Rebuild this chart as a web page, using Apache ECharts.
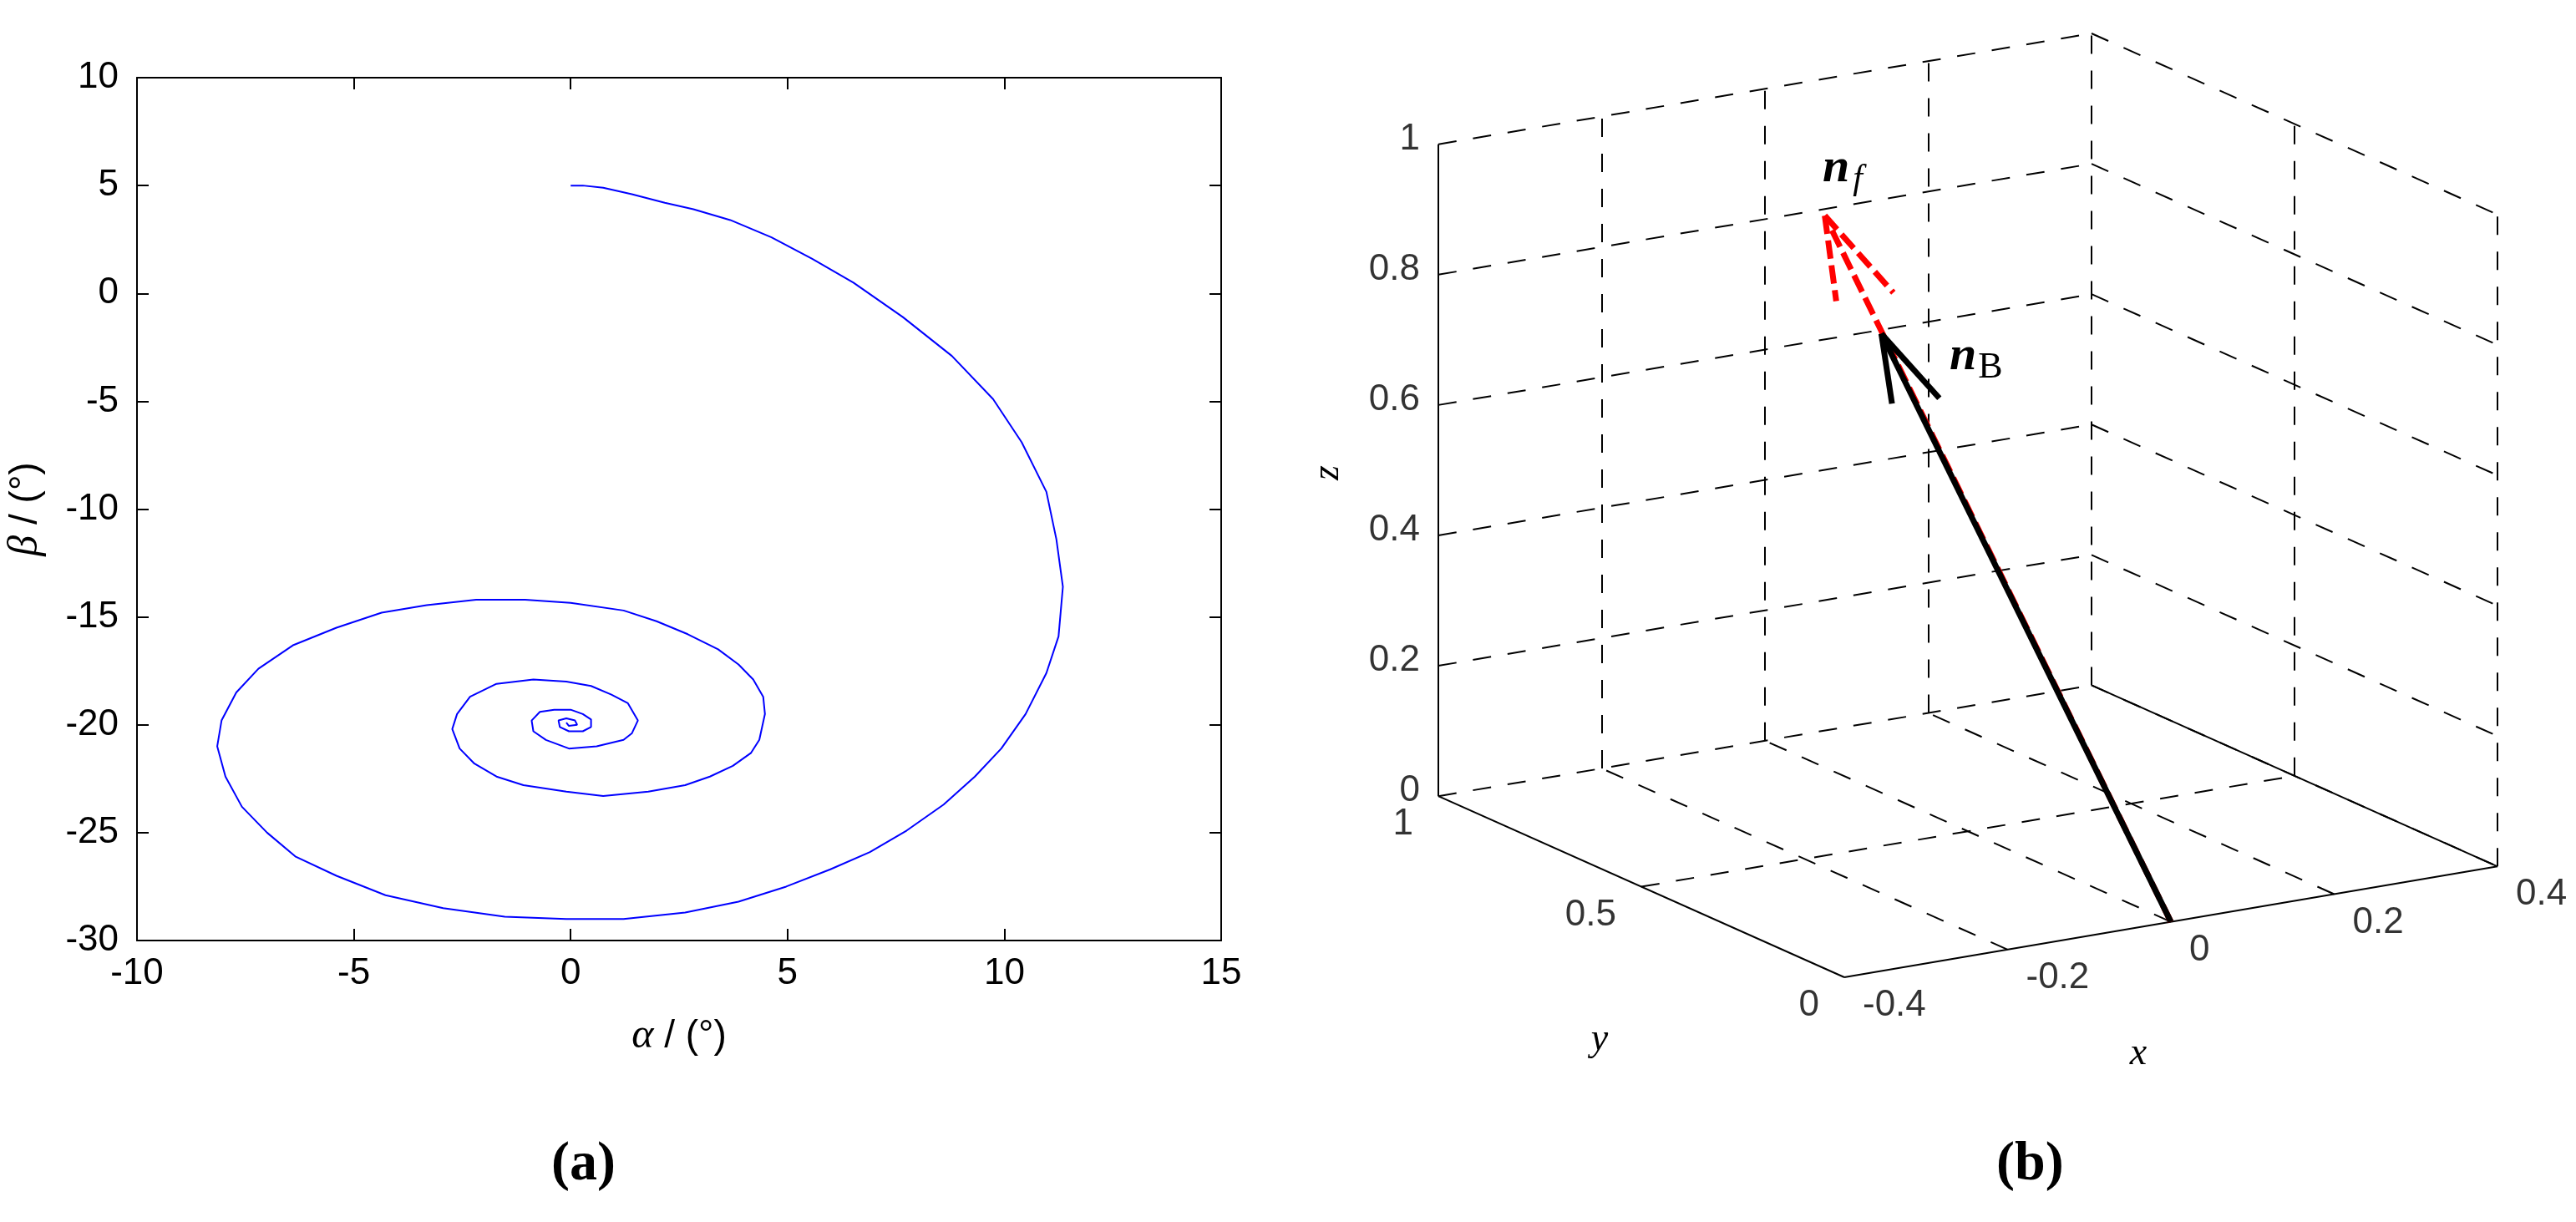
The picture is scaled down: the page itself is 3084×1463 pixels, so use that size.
<!DOCTYPE html>
<html>
<head>
<meta charset="utf-8">
<script src="https://cdn.jsdelivr.net/npm/echarts@6/dist/echarts.min.js"></script>
<style>
  html, body { margin: 0; padding: 0; background: #fff; }
  #chart { width: 3084px; height: 1463px; }
</style>
</head>
<body>
<div id="chart"></div>
<script>
// (a) spiral trajectory, alpha / beta in degrees
const alphaDeg = [0, 0.28, 0.75, 1.41, 2.17, 2.83, 3.68, 4.63, 5.57, 6.52, 7.66, 8.79, 9.74, 10.4, 10.97,
  11.2, 11.35, 11.25, 10.97, 10.49, 9.93, 9.32, 8.6, 7.75, 6.9, 5.99, 4.97, 3.87, 2.64, 1.22, -0.1,
  -1.52, -2.94, -4.27, -5.4, -6.35, -7.0, -7.58, -7.96, -8.15, -8.05, -7.71, -7.2, -6.39, -5.4, -4.36,
  -3.32, -2.18, -1.05, 0, 1.22, 1.98, 2.7, 3.4, 3.87, 4.21, 4.44, 4.48, 4.35, 4.16, 3.74, 3.21, 2.64,
  1.79, 0.75, -0.1, -1.09, -1.71, -2.22, -2.56, -2.73, -2.62, -2.32, -1.71, -0.86, -0.1, 0.47, 0.94,
  1.32, 1.55, 1.41, 1.22, 0.6, -0.04, -0.57, -0.86, -0.9, -0.71, -0.38, 0, 0.28, 0.47, 0.47, 0.28,
  -0.04, -0.25, -0.28, -0.1, 0.1, 0.15, -0.04, -0.1];
const betaDeg = [5.0, 5.0, 4.9, 4.6, 4.2, 3.9, 3.4, 2.6, 1.6, 0.5, -1.1, -2.9, -4.9, -6.9, -9.2,
  -11.4, -13.6, -15.9, -17.6, -19.5, -21.1, -22.4, -23.7, -24.9, -25.9, -26.7, -27.5, -28.2, -28.7, -29.0, -29.0,
  -28.9, -28.5, -27.9, -27.0, -26.1, -25.0, -23.8, -22.4, -21.0, -19.8, -18.5, -17.4, -16.3, -15.5, -14.8,
  -14.45, -14.2, -14.2, -14.35, -14.7, -15.2, -15.8, -16.5, -17.2, -17.9, -18.7, -19.5, -20.7, -21.3, -21.9, -22.4, -22.8,
  -23.1, -23.3, -23.1, -22.8, -22.4, -21.8, -21.1, -20.2, -19.5, -18.7, -18.1, -17.9, -18.0, -18.2, -18.6,
  -19.0, -19.8, -20.4, -20.7, -21.0, -21.1, -20.7, -20.3, -19.8, -19.4, -19.3, -19.3, -19.5, -19.75, -20.1, -20.3,
  -20.3, -20.1, -19.8, -19.7, -19.8, -20.0, -20.05, -19.9];

// (b) 3D vectors [x, y, z]
const nB = [-0.28, 0.15, 0.92];
const nBHeads = [[-0.267, 0.15, 0.81], [-0.209, 0.15, 0.806]];
const nF = [-0.225, 0.4, 1.02];
const nFHeads = [[-0.211, 0.4, 0.886], [-0.141, 0.4, 0.884]];
const xTicks = [-0.4, -0.2, 0, 0.2, 0.4];
const yTicks = [0, 0.5, 1];
const zTicks = [0, 0.2, 0.4, 0.6, 0.8, 1];

// view of the 3D box (screen units per data unit)
const VIEW = { ux: 977.5, uy: -486, vx: 166, vy: 217, vz: 781 };
const P = ([x, y, z]) => [VIEW.ux * x + VIEW.uy * y, VIEW.vx * x + VIEW.vy * y + VIEW.vz * z];

const X0 = xTicks[0], X1 = xTicks[xTicks.length - 1];
const Y0 = yTicks[0], Y1 = yTicks[yTicks.length - 1];
const Z0 = zTicks[0], Z1 = zTicks[zTicks.length - 1];
const corners = [];
for (const x of [X0, X1]) for (const y of [Y0, Y1]) for (const z of [Z0, Z1]) corners.push(P([x, y, z]));
const uMin = Math.min(...corners.map(c => c[0])), uMax = Math.max(...corners.map(c => c[0]));
const vMin = Math.min(...corners.map(c => c[1])), vMax = Math.max(...corners.map(c => c[1]));

const seg = (a, b) => ({ coords: [P(a), P(b)] });
const dashed = [], solid = [];
zTicks.forEach(z => {
  dashed.push(seg([X0, Y1, z], [X1, Y1, z]));
  dashed.push(seg([X1, Y1, z], [X1, Y0, z]));
});
xTicks.slice(1).forEach(x => dashed.push(seg([x, Y1, Z0], [x, Y1, Z1])));
xTicks.slice(1, -1).forEach(x => dashed.push(seg([x, Y0, Z0], [x, Y1, Z0])));
yTicks.slice(0, -1).forEach(y => dashed.push(seg([X1, y, Z0], [X1, y, Z1])));
yTicks.slice(1, -1).forEach(y => dashed.push(seg([X0, y, Z0], [X1, y, Z0])));
solid.push(seg([X0, Y1, Z0], [X0, Y1, Z1]));
solid.push(seg([X0, Y1, Z0], [X0, Y0, Z0]));
solid.push(seg([X0, Y0, Z0], [X1, Y0, Z0]));
solid.push(seg([X1, Y0, Z0], [X1, Y1, Z0]));

const O = [0, 0, 0];
const redArrow = [seg(O, nF), ...nFHeads.map(h => seg(nF, h))];
const blackArrow = [seg(O, nB), ...nBHeads.map(h => seg(nB, h))];

const tickFont = { fontFamily: 'Liberation Sans, Arial', fontSize: 44, color: '#000' };
const labelPts = (pts, offset, align) => ({
  type: 'scatter', xAxisIndex: 2, yAxisIndex: 2, symbolSize: 0, silent: true,
  data: pts.map(([p, t]) => ({ value: P(p), label: { formatter: t } })),
  label: { show: true, position: 'inside', offset, align, verticalAlign: 'middle', ...tickFont },
});

const chart = echarts.init(document.getElementById('chart'));
const spiral = alphaDeg.map((a, i) => [a, betaDeg[i]]);

chart.setOption({
  animation: false,
  backgroundColor: '#fff',
  grid: [
    { left: 164, top: 93, width: 1298, height: 1033 },
    { left: 164, top: 93, width: 1298, height: 1033 },
    { left: 1722, top: 40, width: 1268, height: 1130 },
  ],
  xAxis: [
    { gridIndex: 0, type: 'value', min: -10, max: 15, interval: 5,
      axisLine: { onZero: false, lineStyle: { color: '#000', width: 2 } },
      axisTick: { inside: true, length: 14, lineStyle: { color: '#000', width: 2 } },
      axisLabel: { ...tickFont, margin: 18 }, splitLine: { show: false },
      name: '{i|α} / (°)', nameLocation: 'middle', nameGap: 90,
      nameTextStyle: { fontFamily: 'Liberation Sans, Arial', fontSize: 46, color: '#000',
        rich: { i: { fontFamily: 'Liberation Serif', fontStyle: 'italic', fontSize: 50, color: '#000' } } } },
    { gridIndex: 1, type: 'value', min: -10, max: 15, interval: 5, position: 'top',
      axisLine: { onZero: false, lineStyle: { color: '#000', width: 2 } },
      axisTick: { inside: true, length: 14, lineStyle: { color: '#000', width: 2 } },
      axisLabel: { show: false }, splitLine: { show: false } },
    { gridIndex: 2, type: 'value', min: uMin, max: uMax, show: false },
  ],
  yAxis: [
    { gridIndex: 0, type: 'value', min: -30, max: 10, interval: 5,
      axisLine: { onZero: false, lineStyle: { color: '#000', width: 2 } },
      axisTick: { inside: true, length: 14, lineStyle: { color: '#000', width: 2 } },
      axisLabel: { ...tickFont, margin: 22 }, splitLine: { show: false },
      name: '{i|β} / (°)', nameLocation: 'middle', nameGap: 108, nameRotate: 90,
      nameTextStyle: { fontFamily: 'Liberation Sans, Arial', fontSize: 46, color: '#000',
        rich: { i: { fontFamily: 'Liberation Serif', fontStyle: 'italic', fontSize: 50, color: '#000' } } } },
    { gridIndex: 1, type: 'value', min: -30, max: 10, interval: 5, position: 'right',
      axisLine: { onZero: false, lineStyle: { color: '#000', width: 2 } },
      axisTick: { inside: true, length: 14, lineStyle: { color: '#000', width: 2 } },
      axisLabel: { show: false }, splitLine: { show: false } },
    { gridIndex: 2, type: 'value', min: vMin, max: vMax, show: false },
  ],
  series: [
    { type: 'line', xAxisIndex: 0, yAxisIndex: 0, data: spiral, showSymbol: false,
      lineStyle: { color: '#0000ff', width: 2 } },
    { type: 'lines', xAxisIndex: 2, yAxisIndex: 2, coordinateSystem: 'cartesian2d', silent: true,
      data: dashed, lineStyle: { color: '#000', width: 2, type: [22, 20], opacity: 1 } },
    { type: 'lines', xAxisIndex: 2, yAxisIndex: 2, coordinateSystem: 'cartesian2d', silent: true,
      data: solid, lineStyle: { color: '#000', width: 2, opacity: 1 } },
    { type: 'lines', xAxisIndex: 2, yAxisIndex: 2, coordinateSystem: 'cartesian2d', silent: true,
      data: redArrow, lineStyle: { color: '#ff0000', width: 7, type: [22, 8], opacity: 1 } },
    { type: 'lines', xAxisIndex: 2, yAxisIndex: 2, coordinateSystem: 'cartesian2d', silent: true, z: 3,
      data: blackArrow, lineStyle: { color: '#000', width: 7, opacity: 1 } },
    labelPts(zTicks.map(z => [[X0, Y1, z], String(z)]), [-22, -6], 'right'),
    labelPts(yTicks.map(y => [[X0, y, Z0], String(y)]), [-30, 34], 'right'),
    labelPts(xTicks.map(x => [[x, Y0, Z0], String(x)]), [22, 34], 'left'),
  ],
  graphic: [
    { type: 'text', left: 660, top: 1362, style: { text: '(a)', font: 'bold 66px "Liberation Serif"', fill: '#000' } },
    { type: 'text', left: 2390, top: 1362, style: { text: '(b)', font: 'bold 66px "Liberation Serif"', fill: '#000' } },
    { type: 'text', x: 1590, y: 566, rotation: Math.PI / 2, style: { text: 'z', font: 'italic 46px "Liberation Serif"', fill: '#000', align: 'center', verticalAlign: 'middle' } },
    { type: 'text', x: 1915, y: 1245, style: { text: 'y', font: 'italic 46px "Liberation Serif"', fill: '#000', align: 'center', verticalAlign: 'middle' } },
    { type: 'text', x: 2560, y: 1262, style: { text: 'x', font: 'italic 46px "Liberation Serif"', fill: '#000', align: 'center', verticalAlign: 'middle' } },
    { type: 'text', x: 2182, y: 168, style: { rich: { n: { font: 'bold italic 58px "Liberation Serif"', fill: '#000' }, s: { font: 'italic 42px "Liberation Serif"', fill: '#000', padding: [26, 0, 0, 4] } }, text: '{n|n}{s|f}' } },
    { type: 'text', x: 2334, y: 392, style: { rich: { n: { font: 'bold italic 58px "Liberation Serif"', fill: '#000' }, s: { font: '44px "Liberation Serif"', fill: '#000', padding: [26, 0, 0, 2] } }, text: '{n|n}{s|B}' } },
  ],
});
</script>
</body>
</html>
